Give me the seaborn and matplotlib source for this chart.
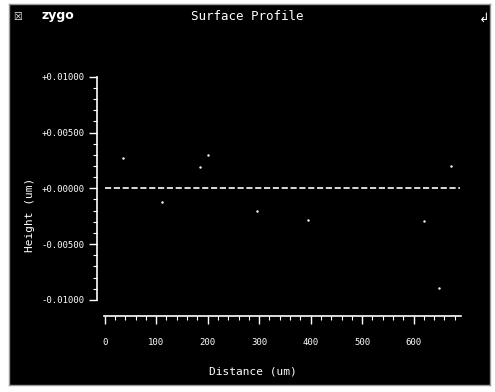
import matplotlib
matplotlib.use("Agg")
import matplotlib.pyplot as plt
import seaborn as sns
import pandas as pd
import numpy as np
from matplotlib.ticker import MultipleLocator, FixedLocator

# Data
distance_um = [35, 111, 186, 200, 295, 394, 621, 649, 672]
height_um = [0.0027, -0.0012, 0.0019, 0.0030, -0.0020, -0.0028, -0.0029, -0.0089, 0.0020]
ref_x = [0, 690]
ref_y = [0.0, 0.0]
y_ticks = [-0.01, -0.005, 0.0, 0.005, 0.01]
y_tick_labels = ["-0.01000", "-0.00500", "+0.00000", "+0.00500", "+0.01000"]
x_ticks = [0, 100, 200, 300, 400, 500, 600]
x_tick_labels = ["0", "100", "200", "300", "400", "500", "600"]

sns.set_style("dark")
plt.rcParams['font.family'] = ['DejaVu Sans Mono', 'DejaVu Sans']

W, H = 495, 392
fig = plt.figure(figsize=(W / 100, H / 100), dpi=100, facecolor="white")

bg = fig.add_axes([9 / W, 1 - 385 / H, (490 - 9) / W, (385 - 4) / H], zorder=-10)
bg.set_facecolor("black")
bg.set_xticks([])
bg.set_yticks([])
for s in bg.spines.values():
    s.set_color("#999999")
    s.set_linewidth(1)

left, right, top, bottom = 97, 463, 70, 316
ax = fig.add_axes([left / W, 1 - bottom / H, (right - left) / W, (bottom - top) / H], zorder=5)
ax.set_facecolor("none")

df = pd.DataFrame({"x": distance_um, "y": height_um})
sns.scatterplot(data=df, x="x", y="y", ax=ax, color="white", s=3, linewidth=0)
sns.lineplot(x=ref_x, y=ref_y, ax=ax, color="white", lw=1.2, dashes=(4, 4), linestyle="--")

ax.set_xlim(-15, 696)
ax.set_ylim(-0.01144, 0.0106)

for s in ["top", "right"]:
    ax.spines[s].set_visible(False)
for s in ["left", "bottom"]:
    ax.spines[s].set_visible(True)
    ax.spines[s].set_color("white")
    ax.spines[s].set_linewidth(1.2)
ax.spines["left"].set_bounds(-0.01, 0.01)
ax.spines["bottom"].set_bounds(-2, 692)

ax.set_yticks(y_ticks)
ax.set_yticklabels(y_tick_labels)
ax.set_xticks(x_ticks)
ax.set_xticklabels(x_tick_labels)
ax.yaxis.set_minor_locator(FixedLocator(np.arange(-0.01, 0.01001, 0.001)))
ax.xaxis.set_minor_locator(FixedLocator(np.arange(0, 691, 20)))
ax.tick_params(axis="both", which="major", direction="out", color="white",
               labelcolor="white", labelsize=6.5, length=6, width=1, pad=3)
ax.tick_params(axis="both", which="minor", direction="out", color="white",
               length=3, width=0.8)
ax.tick_params(axis="x", which="major", pad=10)
ax.tick_params(bottom=True, left=True, which="both")
ax.grid(False)
ax.set_xlabel("")
ax.set_ylabel("")

fig.text(253 / W, 1 - 372 / H, "Distance (um)", color="white", fontsize=8,
         ha="center", va="center", zorder=6)
fig.text(30 / W, 1 - 215 / H, "Height (um)", color="white", fontsize=8,
         ha="center", va="center", rotation=90, zorder=6)
fig.text(247 / W, 1 - 17 / H, "Surface Profile", color="white", fontsize=9,
         ha="center", va="center", zorder=6)
fig.text(42 / W, 1 - 16 / H, "zygo", color="white", fontsize=9, fontweight="bold",
         family="DejaVu Sans", ha="left", va="center", zorder=6)
fig.text(18 / W, 1 - 17 / H, "\u2612", color="white", fontsize=7,
         family="DejaVu Sans", ha="center", va="center", zorder=6)
fig.text(484 / W, 1 - 18 / H, "\u21b2", color="white", fontsize=9,
         family="DejaVu Sans", ha="center", va="center", zorder=6)

fig.savefig("out.png", dpi=100, facecolor="white")
